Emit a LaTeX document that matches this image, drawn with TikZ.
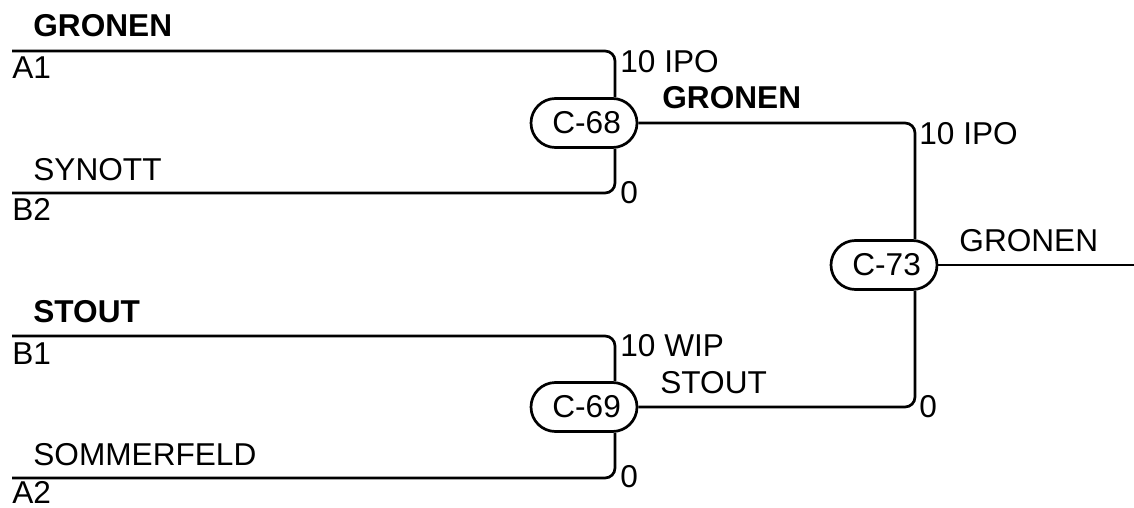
\documentclass[tikz,border=0pt]{standalone}
\usepackage{fontspec}
\setmainfont{Liberation Sans}
\usepackage{tikz}

\tikzset{
  match/.style={draw,line width=1.35pt,rounded corners=12.25pt,
                minimum width=53pt,minimum height=24.5pt,inner sep=0pt,
                font=\fontsize{15.8}{19}\selectfont},
  wire/.style={line width=1.35pt,rounded corners=5pt},
  lbl/.style={inner sep=0pt,anchor=base west,font=\fontsize{15.8}{19}\selectfont},
  lblb/.style={lbl,font=\fontsize{15.8}{19}\selectfont\bfseries}
}

\begin{document}
\begin{tikzpicture}[x=0.5pt,y=-0.5pt]
    \useasboundingbox (0,0) rectangle (1134,508);
    % matches
    \node[match] (c68) at (584,123) {\,C-68};
    \node[match] (c69) at (584,407) {\,C-69};
    \node[match] (c73) at (884,265) {\,C-73};
    % entries
    \coordinate (a1) at (12,51);
    \coordinate (b2) at (12,193);
    \coordinate (b1) at (12,336);
    \coordinate (a2) at (12,478);
    \coordinate (win) at (1134,265);
    \draw[wire] (a1) -| ([xshift=15.5pt]c68.north);
    \draw[wire] (b2) -| ([xshift=15.5pt]c68.south);
    \draw[wire] (b1) -| ([xshift=15.5pt]c69.north);
    \draw[wire] (a2) -| ([xshift=15.5pt]c69.south);
    \draw[wire] (c68.east) -| ([xshift=15.5pt]c73.north);
    \draw[wire] (c69.east) -| ([xshift=15.5pt]c73.south);
    \draw[wire] (c73.east) -- (win);
    % names and seeds
    \node[lblb] (nA1) at (33,37) {GRONEN};
    \node[lbl] (sA1) at (12,79) {A1};
    \node[lbl] (nB2) at (33,180) {SYNOTT};
    \node[lbl] (sB2) at (12,220) {B2};
    \node[lblb] (nB1) at (33,322) {STOUT};
    \node[lbl] (sB1) at (12,364) {B1};
    \node[lbl] (nA2) at (33,465) {SOMMERFELD};
    \node[lbl] (sA2) at (12,503) {A2};
    % scores
    \node[lbl] (r68a) at (620,73) {10 IPO};
    \node[lbl] (r68b) at (620,203) {0};
    \node[lbl] (r69a) at (620,356) {10 WIP};
    \node[lbl] (r69b) at (620,487) {0};
    \node[lbl] (r73a) at (919,144) {10 IPO};
    \node[lbl] (r73b) at (919,417) {0};
    % winners
    \node[lblb] (w68) at (662,109) {GRONEN};
    \node[lbl] (w69) at (660,393) {STOUT};
    \node[lbl] (w73) at (959,251) {GRONEN};
  \end{tikzpicture}
\end{document}
